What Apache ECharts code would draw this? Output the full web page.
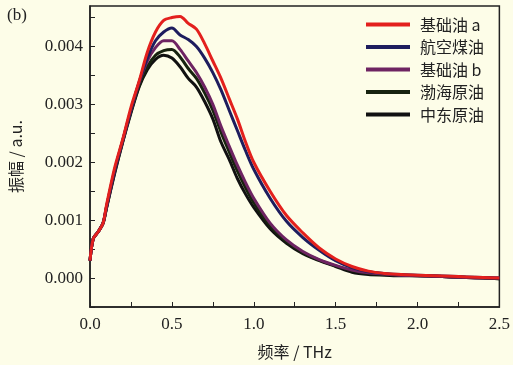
<!DOCTYPE html>
<html><head><meta charset="utf-8">
<script src="https://cdn.jsdelivr.net/npm/echarts@6/dist/echarts.min.js"></script>
<style>html,body{margin:0;padding:0;background:#fdfde8;}#c{width:513px;height:365px;}</style>
</head><body><div id="c"></div>
<script>
// frequency (THz)
var freq = [0,0.02,0.05,0.08,0.1,0.15,0.2,0.25,0.3,0.35,0.4,0.45,0.5,0.55,0.6,0.65,0.7,0.75,0.8,0.85,0.9,0.95,1.0,1.1,1.2,1.3,1.4,1.5,1.6,1.7,1.8,1.9,2.0,2.1,2.2,2.3,2.4,2.5];
// amplitudes in units of 0.001 a.u.
var baseOilA = [0.3,0.68,0.8,0.95,1.25,1.9,2.4,2.95,3.4,3.9,4.25,4.45,4.5,4.52,4.4,4.3,4.05,3.75,3.45,3.1,2.75,2.35,2.0,1.5,1.08,0.78,0.52,0.33,0.2,0.12,0.08,0.06,0.05,0.04,0.03,0.02,0.01,0.0];
var kerosene = [0.3,0.68,0.8,0.95,1.22,1.85,2.38,2.9,3.38,3.8,4.1,4.25,4.32,4.2,4.12,4.0,3.8,3.55,3.25,2.9,2.55,2.2,1.88,1.38,0.98,0.7,0.48,0.3,0.18,0.11,0.08,0.06,0.05,0.04,0.03,0.02,0.01,0.0];
var baseOilB = [0.3,0.68,0.8,0.95,1.22,1.85,2.38,2.9,3.38,3.75,3.98,4.1,4.1,3.95,3.75,3.55,3.3,3.0,2.62,2.28,1.95,1.65,1.38,0.95,0.66,0.46,0.32,0.22,0.14,0.09,0.07,0.05,0.04,0.03,0.02,0.01,0.0,0.0];
var bohaiCrude = [0.3,0.68,0.8,0.95,1.2,1.82,2.36,2.87,3.32,3.65,3.85,3.93,3.95,3.82,3.62,3.45,3.2,2.9,2.52,2.18,1.85,1.56,1.3,0.9,0.63,0.44,0.31,0.21,0.13,0.08,0.06,0.05,0.04,0.03,0.02,0.01,0.0,-0.01];
var mideastCrude = [0.3,0.68,0.8,0.95,1.2,1.8,2.35,2.85,3.3,3.6,3.78,3.85,3.8,3.65,3.45,3.3,3.05,2.75,2.35,2.05,1.72,1.45,1.22,0.85,0.6,0.42,0.3,0.2,0.1,0.06,0.05,0.04,0.04,0.03,0.02,0.01,0.0,-0.01];
var seriesNames = ['基础油 a','航空煤油','基础油 b','渤海原油','中东原油'];
var seriesData = [baseOilA, kerosene, baseOilB, bohaiCrude, mideastCrude];
var colors = ['#e3201d','#1e1d5e','#6e2462','#17230f','#111111'];

var chart = echarts.init(document.getElementById('c'));
var serif = '"Liberation Serif","DejaVu Serif",serif';
var cjk = '"Noto Sans CJK SC","Liberation Serif",serif';
var series = [];
for (var i = seriesData.length - 1; i >= 0; i--) {
  series.push({
    name: seriesNames[i], type: 'line', showSymbol: false, smooth: 0.3,
    data: freq.map(function (f, k) { return [f, seriesData[i][k]]; }),
    lineStyle: { color: colors[i], width: 3 }, itemStyle: { color: colors[i] },
    z: 10 - i
  });
}
chart.setOption({
  backgroundColor: '#fdfde8',
  animation: false,
  grid: { left: 87, right: 11, top: 6, bottom: 56, show: true, borderColor: '#222', borderWidth: 1.5, backgroundColor: 'transparent' },
  title: { text: '(b)', left: 2, top: 2, textStyle: { fontFamily: serif, fontSize: 17, fontWeight: 'normal', color: '#222' } },
  legend: {
    data: seriesNames, orient: 'vertical', left: 361, top: 10,
    itemWidth: 44, itemHeight: 4, itemGap: 3.5, icon: 'rect',
    textStyle: { fontFamily: cjk, fontSize: 16, color: '#222', padding: [0, 0, 0, 5], lineHeight: 19 }
  },
  xAxis: {
    type: 'value', min: 0, max: 2.5, interval: 0.25,
    name: '频率 / THz', nameLocation: 'middle', nameGap: 37,
    nameTextStyle: { fontFamily: cjk, fontSize: 16, color: '#222' },
    axisLine: { onZero: false, lineStyle: { color: '#222', width: 1.5 } },
    axisTick: { inside: true, length: 5, lineStyle: { color: '#222' } },
    splitLine: { show: false },
    axisLabel: { margin: 9, fontFamily: serif, fontSize: 17, color: '#222',
      formatter: function (v) { return Math.abs(v * 2 - Math.round(v * 2)) < 1e-6 ? v.toFixed(1) : ''; } }
  },
  yAxis: {
    type: 'value', min: -0.5, max: 4.7, interval: 0.5,
    name: '振幅 / a.u.', nameLocation: 'middle', nameGap: 66,
    nameTextStyle: { fontFamily: cjk, fontSize: 16, color: '#222' },
    axisLine: { onZero: false, lineStyle: { color: '#222', width: 1.5 } },
    axisTick: { inside: true, length: 5, lineStyle: { color: '#222' } },
    splitLine: { show: false },
    axisLabel: { margin: 7, fontFamily: serif, fontSize: 17, color: '#222', showMaxLabel: false,
      formatter: function (v) { return (v >= -1e-6 && Math.abs(v - Math.round(v)) < 1e-6) ? (v / 1000).toFixed(3) : ''; } }
  },
  series: series
});
</script></body></html>
